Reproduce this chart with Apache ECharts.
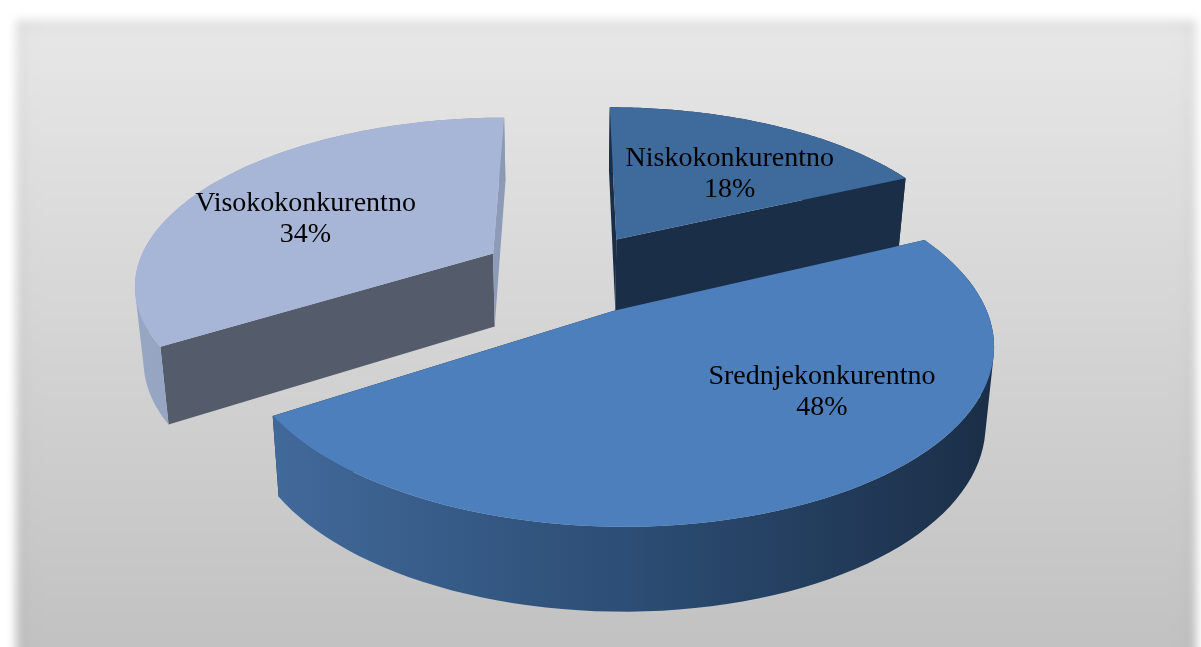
<!DOCTYPE html>
<html>
<head>
<meta charset="utf-8">
<style>
  html, body { margin: 0; padding: 0; background: #fff; overflow: hidden; }
  #frame {
    position: absolute; left: 16px; top: 20px; width: 1180px; height: 650px;
    background: linear-gradient(#e7e7e7, #c0c0c0);
    box-shadow: inset 0 0 18px rgba(0,0,0,0.09);
    filter: blur(5px);
  }
  #main { position: absolute; left: 0; top: 0; width: 1201px; height: 647px; }
</style>
<script src="https://cdn.jsdelivr.net/npm/echarts@6/dist/echarts.min.js"></script>
</head>
<body>
<div id="frame"></div>
<div id="main"></div>
<script>
const categories = ["Niskokonkurentno", "Srednjekonkurentno", "Visokokonkurentno"];
const shares = [18, 48, 34];

// the 3d look: pie lies on a disk of radius 1, projected with perspective
const view = { ox: 570, oy: 273, rx: 358, ry: 165, k: 0.17, explode: 0.25, shrink: 0.98, h0: 74, h1: 9 };

const topColors = ["#3f6a9c", "#4c7fbb", "#a7b6d7"];
const cutColors = [["#1b2e47", "#1b2e47"], ["#1b2e47", "#1b2e47"], ["#545c6b", "#8d9bb8"]];
const wallStops = [
  ["#1b2e47", "#1b2e47"],
  ["#41699a", "#2c4d74", "#1b2e47"],
  ["#97a6c3", "#8b99b3"]
];
// where the label sits inside its slice: radius and turn from the slice middle
const labelPlace = [[0.6, 5], [0.655, -22], [0.615, -5.6]];
const labelDrop = 2.5;

const total = shares.reduce((a, b) => a + b, 0);
const rad = (d) => (d * Math.PI) / 180;

function project(u, v) {
  let d = 1 - view.k * v;
  return { x: view.ox + (view.rx * u) / d, y: view.oy + (view.ry * v) / d, v: v };
}
function lower(p) {
  return [view.ox + (p.x - view.ox) * view.shrink, p.y + view.h0 + view.h1 * p.v];
}
// one closed subpath, always wound the same way so overlaps fill without seams
function quadPath(a, b, c, d) {
  let pts = [a, b, c, d];
  let area = 0;
  pts.forEach((p, n) => {
    let q = pts[(n + 1) % 4];
    area += p[0] * q[1] - q[0] * p[1];
  });
  if (area < 0) pts.reverse();
  return "M" + pts.map((p) => p[0].toFixed(2) + " " + p[1].toFixed(2)).join("L") + "Z";
}

function renderSlice(params) {
  let i = params.dataIndex;
  let before = shares.slice(0, i).reduce((a, b) => a + b, 0);
  let from = (before / total) * 360;
  let to = ((before + shares[i]) / total) * 360;
  let mid = (from + to) / 2;
  let u0 = view.explode * Math.sin(rad(mid));
  let v0 = -view.explode * Math.cos(rad(mid));
  let at = (deg, r) => project(u0 + r * Math.sin(rad(deg)), v0 - r * Math.cos(rad(deg)));

  let apex = at(0, 0);
  let arc = [];
  for (let s = 0; s <= 80; s++) {
    arc.push(at(from + ((to - from) * s) / 80, 1));
  }
  let top = [[apex.x, apex.y]].concat(arc.map((p) => [p.x, p.y]));
  let under = arc.map(lower);
  let xs = arc.map((p) => p.x).concat(under.map((p) => p[0]));
  let stops = wallStops[i].map((c, n, all) => ({ offset: n / (all.length - 1), color: c }));
  let wallFill = new echarts.graphic.LinearGradient(Math.min(...xs), 0, Math.max(...xs), 0, stops, true);

  let wallPath = "";
  for (let s = 0; s < arc.length - 1; s++) {
    wallPath += quadPath([arc[s].x, arc[s].y], [arc[s + 1].x, arc[s + 1].y], under[s + 1], under[s]);
  }

  let first = arc[0];
  let last = arc[arc.length - 1];
  let apexLow = lower(apex);
  let cut = (p, color) => ({
    type: "polygon",
    shape: { points: [[apex.x, apex.y], [p.x, p.y], lower(p), apexLow] },
    style: { fill: color }
  });

  let spot = labelPlace[i];
  let lab = at(mid + spot[1], spot[0]);

  return {
    type: "group",
    children: [
      cut(first, cutColors[i][0]),
      cut(last, cutColors[i][1]),
      { type: "path", shape: { pathData: wallPath }, style: { fill: wallFill } },
      { type: "polygon", shape: { points: top }, style: { fill: topColors[i] } },
      {
        type: "text",
        x: lab.x,
        y: lab.y + labelDrop,
        style: {
          text: categories[i] + "\n" + shares[i] + "%",
          font: '28px "Liberation Serif"',
          lineHeight: 31,
          fill: "#000",
          align: "center",
          verticalAlign: "middle"
        }
      }
    ]
  };
}

let myChart = echarts.init(document.getElementById("main"), null, { renderer: "canvas" });
let option = {
  backgroundColor: "transparent",
  animation: false,
  series: [
    {
      type: "custom",
      coordinateSystem: "none",
      renderItem: renderSlice,
      silent: true,
      clip: false,
      data: shares
    }
  ]
};
myChart.setOption(option);
</script>
</body>
</html>
